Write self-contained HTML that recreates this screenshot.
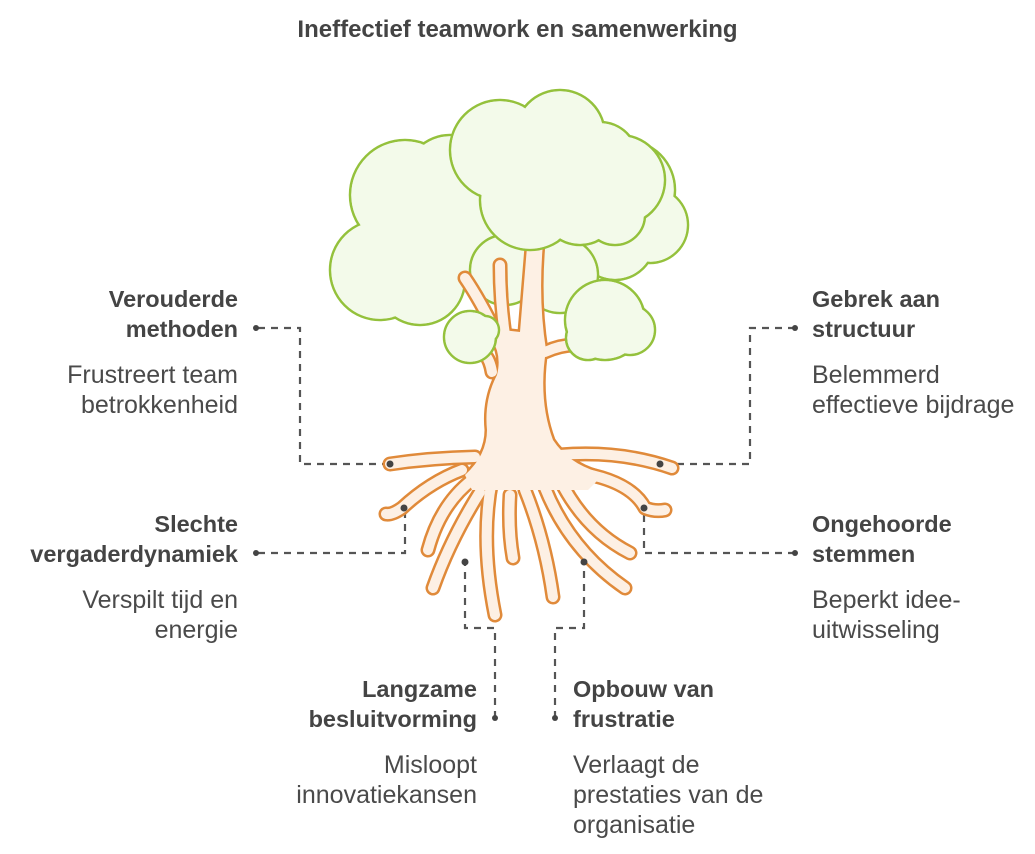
<!DOCTYPE html>
<html><head><meta charset="utf-8"><style>
body{margin:0;width:1035px;height:854px;background:#fff;position:relative;overflow:hidden;font-family:"Liberation Sans",sans-serif}
.t{position:absolute;font-size:25px;line-height:30px;color:#4a4a4a;white-space:nowrap}
.b{font-weight:bold;color:#444;font-size:23.5px}
.r{text-align:right}
</style></head><body>
<div class="t b" style="left:0;width:1035px;text-align:center;top:15px;font-size:24px;">Ineffectief teamwork en samenwerking</div>

<div class="t b r" style="right:797px;top:284px">Verouderde<br>methoden</div>
<div class="t r" style="right:797px;top:360px">Frustreert team<br>betrokkenheid</div>

<div class="t b r" style="right:797px;top:509px">Slechte<br>vergaderdynamiek</div>
<div class="t r" style="right:797px;top:585px">Verspilt tijd en<br>energie</div>

<div class="t b" style="left:812px;top:284px">Gebrek aan<br>structuur</div>
<div class="t" style="left:812px;top:360px">Belemmerd<br>effectieve bijdrage</div>

<div class="t b" style="left:812px;top:509px">Ongehoorde<br>stemmen</div>
<div class="t" style="left:812px;top:585px">Beperkt idee-<br>uitwisseling</div>

<div class="t b r" style="right:558px;top:674px">Langzame<br>besluitvorming</div>
<div class="t r" style="right:558px;top:750px">Misloopt<br>innovatiekansen</div>

<div class="t b" style="left:573px;top:674px">Opbouw van<br>frustratie</div>
<div class="t" style="left:573px;top:750px">Verlaagt de<br>prestaties van de<br>organisatie</div>

<svg width="1035" height="854" style="position:absolute;left:0;top:0" xmlns="http://www.w3.org/2000/svg">
<defs>
<g id="roots">
  <path d="M475 457 Q430 458 390 464"/>
  <path d="M462 470 Q430 482 402 508 Q392 515 386 514"/>
  <path d="M472 480 Q440 505 428 550"/>
  <path d="M480 492 Q450 540 433 588"/>
  <path d="M492 480 Q480 540 495 615"/>
  <path d="M510 495 Q508 530 513 558"/>
  <path d="M525 490 Q545 540 553 597"/>
  <path d="M545 488 Q570 550 625 588"/>
  <path d="M560 480 Q585 530 630 553"/>
  <path d="M575 472 Q630 480 645 508 Q655 512 665 510"/>
  <path d="M560 455 Q620 450 672 468"/>
  <path d="M497 335 Q480 300 465 278"/>
  <path d="M505 335 Q500 300 500 265"/>
  <path d="M545 352 Q560 345 575 345"/>
  <path d="M492 372 Q490 360 485 355"/>
</g>
</defs>
<g fill="none" stroke="#555" stroke-width="2.2" stroke-dasharray="7,6">
<path d="M258 328 H300 V464 H390"/>
<path d="M258 553 H405 V508"/>
<path d="M495 718 V628 H465 V562"/>
<path d="M555 718 V628 H584 V562"/>
<path d="M795 328 H750 V464 H660"/>
<path d="M795 553 H644 V508"/>
</g>
<g fill="#444"><circle cx="256" cy="328" r="3"/><circle cx="256" cy="553" r="3"/><circle cx="495" cy="718" r="3"/><circle cx="555" cy="718" r="3"/><circle cx="795" cy="328" r="3"/><circle cx="795" cy="553" r="3"/>
</g>

<g stroke="#94c13c" stroke-width="2.5" fill="#f3faea">
 <circle cx="405" cy="195" r="55"/><circle cx="450" cy="180" r="45"/><circle cx="380" cy="270" r="50"/><circle cx="420" cy="280" r="45"/><circle cx="465" cy="240" r="45"/>
 <circle cx="625" cy="190" r="50"/><circle cx="650" cy="225" r="38"/><circle cx="615" cy="240" r="40"/><circle cx="585" cy="240" r="30"/>
</g>
<g fill="#f3faea">
 <circle cx="405" cy="195" r="53.7"/><circle cx="450" cy="180" r="43.7"/><circle cx="380" cy="270" r="48.7"/><circle cx="420" cy="280" r="43.7"/><circle cx="465" cy="240" r="43.7"/>
 <circle cx="625" cy="190" r="48.7"/><circle cx="650" cy="225" r="36.7"/><circle cx="615" cy="240" r="38.7"/><circle cx="585" cy="240" r="28.7"/>
</g>
<g stroke="#94c13c" stroke-width="2.5" fill="#f3faea"><circle cx="505" cy="270" r="35"/><circle cx="560" cy="275" r="38"/></g>
<g fill="#f3faea"><circle cx="505" cy="270" r="33.7"/><circle cx="560" cy="275" r="36.7"/></g>

<g fill="none" stroke="#e08a3a" stroke-linecap="round" stroke-linejoin="round">
 <use href="#roots" stroke-width="15"/>
 <path stroke-width="5" d="M465 475 Q487 455 487 430 Q484 400 497 375 Q502 355 492 340 L475 327 L520 332 L527 247 L543 243 Q538 300 546 350 Q538 400 553 440 Q568 463 598 472"/>
</g>
<g fill="none" stroke="#fdf0e4" stroke-linecap="round" stroke-linejoin="round">
 <use href="#roots" stroke-width="10"/>
</g>
<path fill="#fdf0e4" d="M527 247 L543 243 Q538 300 546 350 Q538 400 553 440 Q568 463 598 472 L598 480 L588 490 L472 490 L465 475 Q487 455 487 430 Q484 400 497 375 Q502 355 492 340 L475 327 L520 332 Z"/>

<g stroke="#94c13c" stroke-width="2.5" fill="#f3faea">
 <circle cx="500" cy="150" r="50"/><circle cx="560" cy="135" r="45"/><circle cx="600" cy="160" r="38"/><circle cx="620" cy="180" r="45"/><circle cx="530" cy="200" r="50"/><circle cx="580" cy="205" r="40"/><circle cx="615" cy="215" r="30"/>
 <circle cx="470" cy="337" r="26"/><circle cx="485" cy="330" r="14"/>
 <circle cx="605" cy="320" r="40"/><circle cx="630" cy="330" r="25"/><circle cx="588" cy="338" r="22"/>
</g>
<g fill="#f3faea">
 <circle cx="500" cy="150" r="48.7"/><circle cx="560" cy="135" r="43.7"/><circle cx="600" cy="160" r="36.7"/><circle cx="620" cy="180" r="43.7"/><circle cx="530" cy="200" r="48.7"/><circle cx="580" cy="205" r="38.7"/><circle cx="615" cy="215" r="28.7"/>
 <circle cx="470" cy="337" r="24.7"/><circle cx="485" cy="330" r="12.7"/>
 <circle cx="605" cy="320" r="38.7"/><circle cx="630" cy="330" r="23.7"/><circle cx="588" cy="338" r="20.7"/>
</g>
<g fill="#444"><circle cx="390" cy="464" r="3.5"/><circle cx="404" cy="508" r="3.5"/><circle cx="465" cy="562" r="3.5"/><circle cx="584" cy="562" r="3.5"/><circle cx="660" cy="464" r="3.5"/><circle cx="644" cy="508" r="3.5"/></g>
</svg>
</body></html>
